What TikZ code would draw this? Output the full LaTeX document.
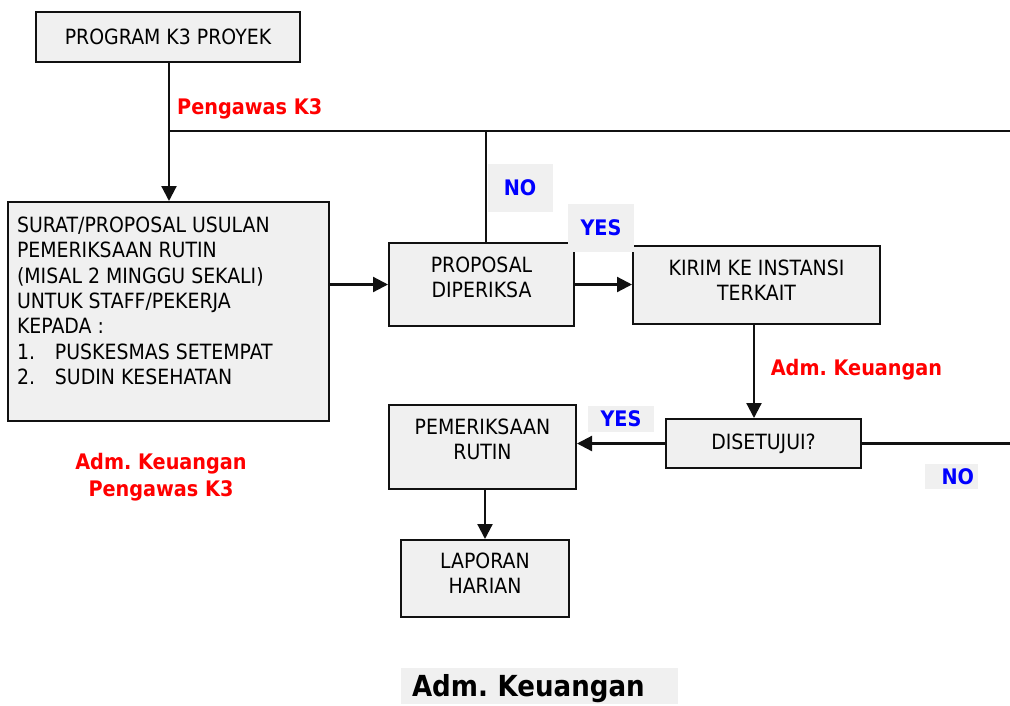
\documentclass[tikz,border=0pt]{standalone}
\usepackage{fontspec}
\usetikzlibrary{arrows.meta}
\newfontfamily\bxfam{DejaVu Sans}[FakeStretch=0.9]
\newcommand{\boxfont}{\bxfam\fontsize{21}{25}\selectfont}
\newcommand{\lblfont}{\bxfam\bfseries\fontsize{21.4}{26.7}\selectfont}
\newcommand{\bigfont}{\bxfam\bfseries\fontsize{29}{32}\selectfont}
\newcommand{\uptext}[2]{\raisebox{#1}[\height][\depth]{\begin{tabular}{@{}c@{}}#2\end{tabular}}}
\definecolor{boxgray}{HTML}{F0F0F0}
\definecolor{lblred}{HTML}{FF0000}
\definecolor{lblblue}{HTML}{0000FF}
\definecolor{edgecol}{HTML}{111111}
\frenchspacing
\begin{document}
\begin{tikzpicture}[x=1pt,y=-1pt,
  flowbox/.style={draw=edgecol,line width=2pt,fill=boxgray,align=center,font=\boxfont,inner sep=0pt},
  conn/.style={draw=edgecol,line width=2.2pt},
  arr/.style={conn,-{Triangle[length=15pt,width=15pt]}},
  redlbl/.style={text=lblred,font=\lblfont,inner sep=0pt},
  bluelbl/.style={fill=boxgray,text=lblblue,font=\lblfont,inner sep=0pt}]
\fill[white] (0,0) rectangle (1010,705);
\useasboundingbox (0,0) rectangle (1010,705);

% boxes
\node[flowbox,minimum width=264pt,minimum height=50pt] (prog) at (168,36.5) {PROGRAM K3 PROYEK};
\node[flowbox,inner xsep=9pt,align=left] (surat) at (168.5,311.5)
  {\parbox[c][219pt][t]{303pt}{\raggedright\fontsize{21}{25.3}\selectfont
   \rule{0pt}{30.5pt}SURAT/PROPOSAL USULAN\\
   PEMERIKSAAN RUTIN\\
   (MISAL 2 MINGGU SEKALI)\\
   UNTUK STAFF/PEKERJA\\
   KEPADA :\\
   \makebox[38pt][l]{1.}PUSKESMAS SETEMPAT\\
   \makebox[38pt][l]{2.}SUDIN KESEHATAN}};
\node[flowbox,minimum width=185pt,minimum height=83pt] (prop) at (481.5,284.5) {\uptext{5pt}{PROPOSAL\\DIPERIKSA}};
\node[flowbox,minimum width=247pt,minimum height=78pt] (kirim) at (756.5,285) {\uptext{2.5pt}{KIRIM KE INSTANSI\\TERKAIT}};
\node[flowbox,minimum width=195pt,minimum height=49pt] (setuju) at (763.5,443.5) {DISETUJUI?};
\node[flowbox,minimum width=187pt,minimum height=84pt] (rutin) at (482.5,447) {\uptext{5.5pt}{PEMERIKSAAN\\RUTIN}};
\node[flowbox,minimum width=168pt,minimum height=77pt] (lapor) at (485,578.5) {\uptext{3pt}{LAPORAN\\HARIAN}};

% helper coordinates
\coordinate (j1) at (169,131);
\coordinate (e1) at (1010,131);
\coordinate (j2) at (486,131);
\coordinate (k1) at (754,0);
\coordinate (e2) at (1010,445);

% connectors
\draw[arr] (prog.south -| j1) -- (surat.north -| j1);
\draw[conn,line width=1.4pt] (j1) -- (e1);
\draw[conn,line width=1.6pt] (j2) -- (prop.north -| j2);
\draw[arr] (prop.west -| surat.east) -- (prop.west);
\draw[arr] (prop.east) -- (prop.east -| kirim.west);
\draw[arr] (kirim.south -| k1) -- (setuju.north -| k1);
\draw[arr] (setuju.west) -- (setuju.west -| rutin.east);
\draw[conn] (setuju.east) -- (setuju.east -| e2);
\draw[arr] (rutin.south -| lapor.north) -- (lapor.north);

% labels
\node[redlbl,anchor=base west] (lk3) at (177,114.3) {Pengawas K3};
\node[bluelbl,minimum width=65pt,minimum height=48pt] (no1) at (520,188) {NO};
\node[bluelbl,minimum width=66pt,minimum height=48pt] (yes1) at (601,228) {YES};
\node[redlbl,anchor=base] (adm1) at (856.5,375) {Adm. Keuangan};
\node[bluelbl,minimum width=66pt,minimum height=26pt] (yes2) at (621,419) {YES};
\node[bluelbl,text width=45pt,inner xsep=4pt,align=right,minimum height=25pt] (no2) at (951.5,476.5) {NO};
\node[redlbl,align=center] (adm2) at (161,477) {Adm. Keuangan\\Pengawas K3};
\node[fill=boxgray,text width=255pt,inner xsep=11pt,inner ysep=0pt,align=left,
      minimum height=36pt,text height=20pt,text depth=0pt,font=\bigfont] (adm3) at (539.5,686) {Adm. Keuangan};
\end{tikzpicture}
\end{document}
